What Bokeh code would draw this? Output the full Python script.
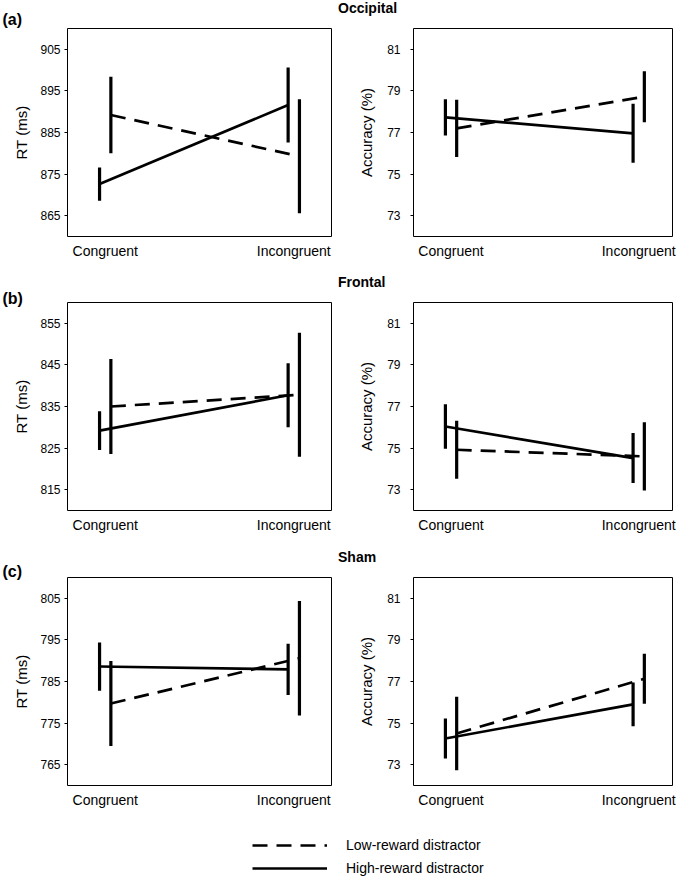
import numpy as np
from bokeh.plotting import figure
from bokeh.layouts import column, row
from bokeh.models import Range1d, FixedTicker, Legend, LegendItem, Div
from bokeh.embed import file_html
from bokeh.resources import INLINE

# ---------------- data ----------------
conditions = ["Congruent", "Incongruent"]
regions = ["Occipital", "Frontal", "Sham"]
panel_tags = ["(a)", "(b)", "(c)"]
series_names = ["Low-reward distractor", "High-reward distractor"]

# Occipital
occ_rt_low = [889.2, 879.3]
occ_rt_low_err = [9.2, 13.7]
occ_rt_high = [872.6, 891.6]
occ_rt_high_err = [4.0, 9.0]
occ_acc_low = [77.2, 78.72]
occ_acc_low_err = [1.38, 1.23]
occ_acc_high = [77.73, 76.96]
occ_acc_high_err = [0.87, 1.42]

# Frontal
fro_rt_low = [835.0, 837.8]
fro_rt_low_err = [11.4, 14.9]
fro_rt_high = [829.2, 837.7]
fro_rt_high_err = [4.65, 7.7]
fro_acc_low = [74.92, 74.6]
fro_acc_low_err = [1.39, 1.64]
fro_acc_high = [76.04, 74.52]
fro_acc_high_err = [1.07, 1.2]

# Sham
sham_rt_low = [779.7, 790.6]
sham_rt_low_err = [10.2, 13.75]
sham_rt_high = [788.6, 787.9]
sham_rt_high_err = [5.8, 6.15]
sham_acc_low = [74.5, 77.13]
sham_acc_low_err = [1.77, 1.2]
sham_acc_high = [74.26, 75.9]
sham_acc_high_err = [0.96, 1.05]

occ_rt_ticks = [865, 875, 885, 895, 905]
fro_rt_ticks = [815, 825, 835, 845, 855]
sham_rt_ticks = [765, 775, 785, 795, 805]
acc_ticks = [73, 75, 77, 79, 81]

# ---------------- style ----------------
FONT = "Liberation Sans"
FRAME_H = 208
DASH = "15 9"


def make_panel(low, low_err, high, high_err, yrange, ticks, ylabel,
               width, border_left, border_right, x_end, tick_standoff,
               label_standoff, border_top, border_bottom,
               title=None, title_size="16px", title_offset=0, title_standoff=0):
    p = figure(width=width, height=border_top + FRAME_H + border_bottom,
               x_range=Range1d(-0.2, x_end), y_range=Range1d(*yrange),
               output_backend="svg", toolbar_location=None,
               min_border_left=border_left, min_border_right=border_right,
               min_border_top=border_top, min_border_bottom=border_bottom)
    p.xgrid.visible = False
    p.ygrid.visible = False
    p.outline_line_color = "black"
    p.outline_line_width = 1
    p.outline_line_alpha = 1
    p.background_fill_color = "white"
    p.border_fill_color = "white"

    if title:
        p.title.text = title
        p.title.align = "left"
        p.title.vertical_align = "bottom"
        p.title.offset = title_offset
        p.title.standoff = title_standoff
        p.title.text_font = FONT
        p.title.text_font_size = title_size
        p.title.text_font_style = "bold"
        p.title.text_color = "black"
    else:
        p.title.visible = False

    xi = np.arange(len(conditions))
    for vals, errs, dash, off in [(high, high_err, "solid", -0.03),
                                  (low, low_err, DASH, 0.03)]:
        v = np.array(vals)
        e = np.array(errs)
        xs = xi + off
        p.line(xs, v, line_dash=dash, line_width=2.7, line_color="black")
        p.segment(x0=xs, y0=v - e, x1=xs, y1=v + e, line_width=3.2,
                  line_color="black", line_cap="butt")

    xa = p.xaxis[0]
    xa.ticker = FixedTicker(ticks=list(range(len(conditions))))
    xa.major_label_overrides = {i: c for i, c in enumerate(conditions)}
    xa.major_tick_out = 0
    xa.major_tick_in = 0
    xa.minor_tick_out = 0
    xa.minor_tick_in = 0
    xa.axis_line_color = None
    xa.major_label_text_font = FONT
    xa.major_label_text_font_size = "14px"
    xa.major_label_text_color = "black"
    xa.major_label_standoff = 6

    ya = p.yaxis[0]
    ya.ticker = FixedTicker(ticks=ticks)
    ya.major_tick_out = 3
    ya.major_tick_in = 0
    ya.minor_tick_out = 0
    ya.minor_tick_in = 0
    ya.major_tick_line_color = "black"
    ya.axis_line_color = None
    ya.major_label_text_font = FONT
    ya.major_label_text_font_size = "12px"
    ya.major_label_text_color = "black"
    ya.major_label_standoff = tick_standoff
    ya.axis_label = ylabel
    ya.axis_label_text_font = FONT
    ya.axis_label_text_font_size = "15px"
    ya.axis_label_text_font_style = "normal"
    ya.axis_label_text_color = "black"
    ya.axis_label_standoff = label_standoff
    return p


def region_div(text, height, pad_top):
    html = ('<div style="position:relative; left:2px; top:%dpx; '
            'font-family:\'Liberation Sans\'; font-size:14px; font-weight:bold; '
            'line-height:16px; color:black; white-space:nowrap;">%s</div>' % (pad_top, text))
    return Div(text=html, width=340, height=height, margin=0)


rows_data = [
    (occ_rt_low, occ_rt_low_err, occ_rt_high, occ_rt_high_err, (860, 910), occ_rt_ticks,
     occ_acc_low, occ_acc_low_err, occ_acc_high, occ_acc_high_err, 28, 32, 2, 16, 0),
    (fro_rt_low, fro_rt_low_err, fro_rt_high, fro_rt_high_err, (810, 860), fro_rt_ticks,
     fro_acc_low, fro_acc_low_err, fro_acc_high, fro_acc_high_err, 34, 32, -9, 22, 6),
    (sham_rt_low, sham_rt_low_err, sham_rt_high, sham_rt_high_err, (760, 810), sham_rt_ticks,
     sham_acc_low, sham_acc_low_err, sham_acc_high, sham_acc_high_err, 35, 31, -5, 23, 7),
]

rows = []
for k, (rl, rle, rh, rhe, ryr, rticks, al, ale, ah, ahe, btop, bbot, tag_so,
        div_h, div_pad) in enumerate(rows_data):
    left = make_panel(rl, rle, rh, rhe, ryr, rticks, "RT (ms)",
                      width=336, border_left=67, border_right=5, x_end=1.2,
                      tick_standoff=4, label_standoff=7,
                      border_top=btop, border_bottom=bbot,
                      title=panel_tags[k], title_size="16px",
                      title_offset=-65, title_standoff=tag_so)
    right = make_panel(al, ale, ah, ahe, (72, 82), acc_ticks, "Accuracy (%)",
                       width=340, border_left=77, border_right=4, x_end=1.18,
                       tick_standoff=10, label_standoff=9,
                       border_top=btop - div_h, border_bottom=bbot)
    rows.append(row(left, column(region_div(regions[k], div_h, div_pad), right)))

# ---------------- legend ----------------
lf = figure(width=676, height=60, x_range=Range1d(0, 1), y_range=Range1d(0, 1),
            output_backend="svg", toolbar_location=None,
            min_border_left=0, min_border_right=0, min_border_top=0, min_border_bottom=0)
lf.axis.visible = False
lf.xgrid.visible = False
lf.ygrid.visible = False
lf.outline_line_color = None
# proxies drawn outside the visible range (only their legend glyphs show)
r_low = lf.line(np.arange(len(conditions)) + 5, sham_acc_low, line_dash=DASH,
                line_width=2.7, line_color="black")
r_high = lf.line(np.arange(len(conditions)) + 5, sham_acc_high,
                 line_width=2.7, line_color="black")
legend = Legend(items=[LegendItem(label=series_names[0], renderers=[r_low]),
                       LegendItem(label=series_names[1], renderers=[r_high])],
                location=(252, 0), orientation="vertical",
                glyph_width=75, glyph_height=16, label_height=16, spacing=7,
                label_standoff=19, padding=0, margin=0,
                border_line_color=None, background_fill_alpha=0,
                label_text_font=FONT, label_text_font_size="14px",
                label_text_color="black")
lf.add_layout(legend)

layout = column(*rows, lf)

open("out.html", "w").write(file_html(layout, INLINE))
